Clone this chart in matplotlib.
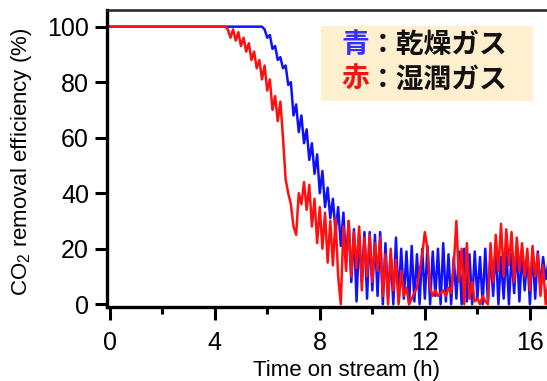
import numpy as np
import matplotlib
matplotlib.use("Agg")
import matplotlib.pyplot as plt
from matplotlib.patches import Rectangle

plt.rcParams['font.family'] = ['Liberation Sans', 'DejaVu Sans']
plt.rcParams['mathtext.fontset'] = 'custom'
plt.rcParams['mathtext.rm'] = 'Liberation Sans'
plt.rcParams['mathtext.it'] = 'Liberation Sans:italic'

#%% datos (paso de 0.1 h)
# azul: gas seco, 100 % hasta 5.8 h
azul_inicio = 5.8
azul = [100, 99, 96, 97, 92, 93, 88, 89, 85, 86,
        79, 80, 68, 72, 62, 68, 58, 63, 52, 58,
        47, 54, 40, 48, 35, 42, 31, 38, 26, 35,
        21, 33, 15, 30, 8, 27, 1, 25, 8, 26,
        2, 26, 5, 25, 3, 26, 0, 22, 2, 18,
        0, 24, 1, 20, 2, 19, 0, 21, 1, 18,
        0, 20, 2, 21, 0, 19, 3, 20, 0, 22,
        1, 18, 0, 17, 2, 19, 0, 20, 1, 18,
        0, 19, 2, 17, 0, 20, 1, 18, 3, 21,
        0, 17, 2, 20, 0, 18, 4, 21, 1, 19,
        5, 18, 0, 20, 2, 19, 6, 17, 9, 15]
# rojo: gas humedo, 100 % hasta 4.4 h
rojo_inicio = 4.4
rojo = [100, 99, 96, 99, 95, 98, 93, 96, 91, 94,
        88, 91, 85, 88, 81, 86, 77, 81, 70, 75,
        66, 73, 60, 45, 40, 36, 28, 25, 40, 36,
        44, 34, 43, 28, 38, 22, 35, 20, 33, 15,
        30, 14, 31, 10, 0, 28, 12, 30, 10, 26,
        13, 28, 5, 24, 10, 25, 8, 22, 12, 24,
        3, 18, 0, 20, 5, 16, 0, 12, 3, 6,
        0, 2, 4, 6, 12, 18, 26, 20, 6, 3,
        5, 3, 4, 5, 3, 6, 4, 14, 30, 8,
        20, 0, 22, 2, 8, 1, 2, 0, 3, 1,
        0, 22, 8, 25, 12, 29, 10, 27, 14, 26,
        8, 24, 12, 22, 10, 20, 5, 21, 10, 18,
        3, 14, 0, 8]

t_azul = np.concatenate([[0], azul_inicio + 0.1 * np.arange(len(azul))])
y_azul = np.concatenate([[100], azul])
t_rojo = np.concatenate([[0], rojo_inicio + 0.1 * np.arange(len(rojo))])
y_rojo = np.concatenate([[100], rojo])

ticks_x = [0, 4, 8, 12, 16]
ticks_y = [0, 20, 40, 60, 80, 100]

#%%
fig = plt.figure(figsize=(5.47, 3.81), dpi=100)
ax = fig.add_axes([107 / 547, 1 - 307 / 381, 440 / 547, 297 / 381])

ax.plot(t_azul, y_azul, color='#1010ff', lw=1.8)
ax.plot(t_rojo, y_rojo, color='#ff1010', lw=1.8)

ax.set_xlim(-0.1, 16.65)
ax.set_ylim(-1, 106)
ax.set_xticks(ticks_x)
ax.set_xticks([2, 6, 10, 14], minor=True)
ax.set_yticks(ticks_y)
ax.tick_params(axis='both', which='major', direction='out', width=2.2,
               labelsize=18, color='black')
ax.tick_params(axis='x', which='major', length=9.5, pad=8)
ax.tick_params(axis='y', which='major', length=9, pad=4)
ax.tick_params(axis='x', which='minor', length=5, width=2.2)
for lado in ['left', 'bottom']:
    ax.spines[lado].set_linewidth(2.4)
ax.spines['top'].set_linewidth(1.8)
ax.spines['top'].set_color('#222222')
ax.spines['right'].set_visible(False)

ax.set_ylabel("CO$_2$ removal efficiency (%)", fontsize=16)
ax.yaxis.set_label_coords(-0.165, 0.488)
ax.set_xlabel("Time on stream (h)", fontsize=16)
ax.xaxis.set_label_coords(0.544, -0.178)

# cuadro de leyenda
ax.add_patch(Rectangle((0.486, 0.694), 0.482, 0.252, transform=ax.transAxes,
                       facecolor='#fef0cf', edgecolor='none', zorder=3))
fuente_jp = ['Noto Sans CJK JP', 'DejaVu Sans']
t1 = ax.text(0.532, 0.882, "青", color='#3030ff', fontsize=20, weight='bold',
             family=fuente_jp, va='center', ha='left', transform=ax.transAxes, zorder=4)
ax.annotate("：乾燥ガス", xy=(1, 0.5), xycoords=t1, fontsize=20, weight='bold',
            family=fuente_jp, va='center', ha='left', color='#111111', zorder=4)
t2 = ax.text(0.532, 0.764, "赤", color='#ff1010', fontsize=20, weight='bold',
             family=fuente_jp, va='center', ha='left', transform=ax.transAxes, zorder=4)
ax.annotate("：湿潤ガス", xy=(1, 0.5), xycoords=t2, fontsize=20, weight='bold',
            family=fuente_jp, va='center', ha='left', color='#111111', zorder=4)

plt.savefig("out.png", dpi=100)
